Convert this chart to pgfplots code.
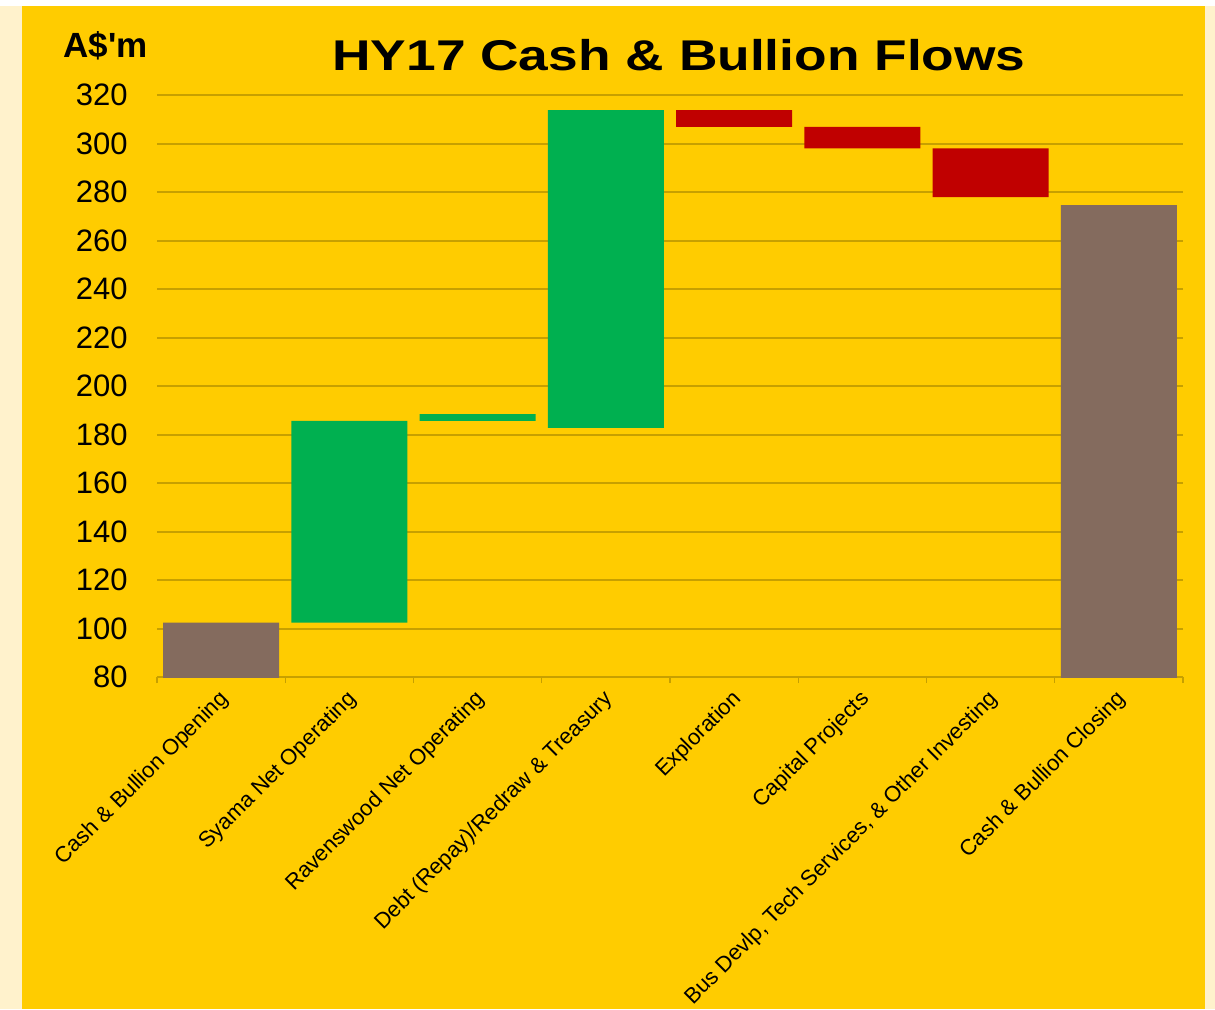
\documentclass[border=0pt]{standalone}
\usepackage{pgfplots}
\pgfplotsset{compat=1.18}
\usepackage{fontspec}
\setmainfont{Liberation Sans}
\usepackage{graphicx}

\definecolor{bgyellow}{RGB}{255,204,0}
\definecolor{bgcream}{RGB}{255,242,204}
\definecolor{gridolive}{RGB}{199,160,0}
\definecolor{wfgreen}{RGB}{0,176,80}
\definecolor{wfred}{RGB}{192,0,0}
\definecolor{wfbrown}{RGB}{132,107,94}

\begin{document}
\begin{tikzpicture}
% page background (1px = 0.5pt)
\fill[white] (0pt,0pt) rectangle (607.5pt,-504.5pt);
\fill[bgcream] (0pt,-3pt) rectangle (607.5pt,-504.5pt);
\fill[bgyellow] (11pt,-3pt) rectangle (602.5pt,-504.5pt);

\begin{axis}[
  at={(78.5pt,-338.5pt)}, anchor=south west,
  scale only axis,
  width=513pt, height=291pt,
  xmin=-0.5, xmax=7.5,
  ymin=80, ymax=320,
  ybar stacked,
  bar width=58pt,
  xtick={0,...,7},
  xticklabels={Cash \& Bullion Opening, Syama Net Operating, Ravenswood Net Operating,
    Debt (Repay)/Redraw \& Treasury, Exploration, Capital Projects,
    {Bus Devlp, Tech Services, \& Other Investing}, Cash \& Bullion Closing},
  minor xtick={-0.5,0.5,...,7.5},
  ytick={80,100,...,320},
  major tick length=0pt,
  minor tick length=3pt,
  tick align=outside,
  xtick pos=bottom,
  ytick pos=left,
  tick style={color=gridolive, line width=0.6pt},
  axis line style={draw=none},
  ymajorgrids=true,
  grid style={color=gridolive, line width=1pt},
  /pgf/number format/assume math mode=true,
  yticklabel style={font=\fontsize{15.5}{16}\selectfont, inner sep=0pt, xshift=-14.5pt},
  xticklabel style={font=\fontsize{11}{12}\selectfont, rotate=45, anchor=north east,
    inner sep=0pt, xshift=-5.2pt, yshift=-2.7pt},
  clip=true,
]
% invisible base of each floating bar
\addplot[fill=none, draw=none] coordinates
  {(0,0) (1,102.4) (2,185.6) (3,182.7) (4,306.9) (5,298.0) (6,277.9) (7,0)};
% opening and closing balances
\addplot[fill=wfbrown, draw=none] coordinates
  {(0,102.4) (1,0) (2,0) (3,0) (4,0) (5,0) (6,0) (7,274.6)};
% inflows
\addplot[fill=wfgreen, draw=none] coordinates
  {(0,0) (1,83.2) (2,2.8) (3,131.1) (4,0) (5,0) (6,0) (7,0)};
% outflows
\addplot[fill=wfred, draw=none] coordinates
  {(0,0) (1,0) (2,0) (3,0) (4,6.9) (5,8.9) (6,20.1) (7,0)};
\end{axis}

\node[anchor=base, inner sep=0pt] at (339.5pt,-35pt)
  {\scalebox{1.24}[1]{\fontsize{21.5}{24}\selectfont\bfseries HY17 Cash \& Bullion Flows}};
\node[anchor=base west, inner sep=0pt] at (31.5pt,-28.5pt)
  {\fontsize{17.5}{20}\selectfont\bfseries A\$\textquotesingle m};
\end{tikzpicture}
\end{document}
